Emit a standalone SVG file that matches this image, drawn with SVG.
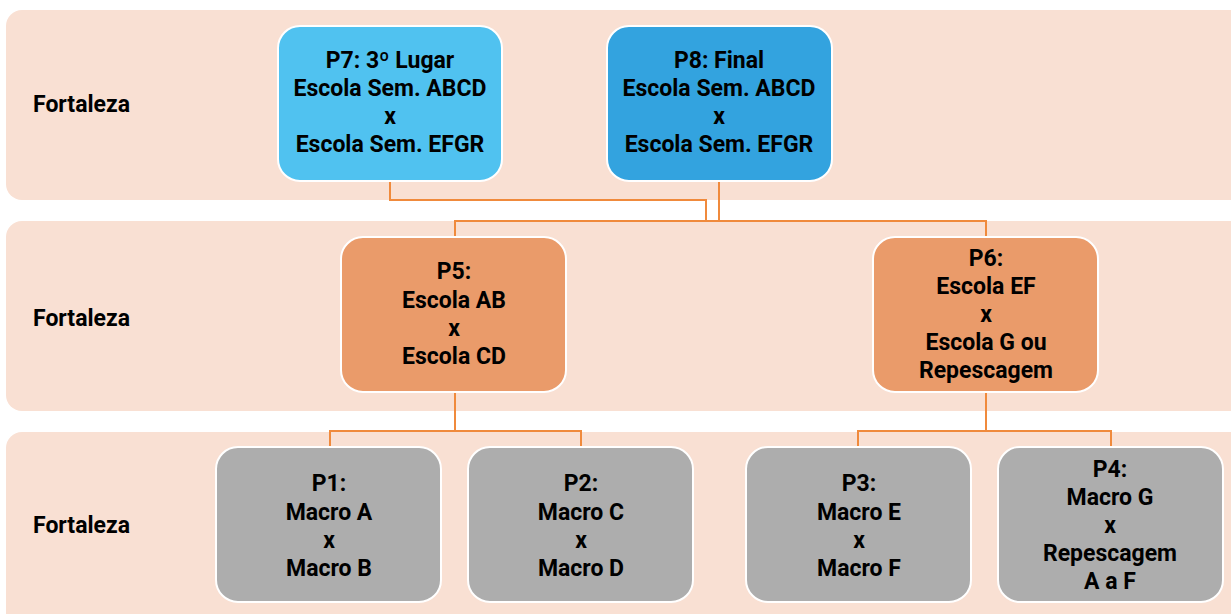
<svg xmlns="http://www.w3.org/2000/svg" width="1231" height="614" viewBox="0 0 1231 614">
<style>
.band{fill:#F9E0D3}
.node{stroke:#FFFFFF;stroke-width:2}
.blue1{fill:#50C2F0}
.blue2{fill:#33A3DF}
.orange{fill:#EA9B6A}
.gray{fill:#ADADAD}
text{font-family:Roboto,"Liberation Sans",sans-serif;font-weight:bold;font-size:23px;fill:#000}
.c{text-anchor:middle}
.conn{fill:none;stroke:#F08A3C;stroke-width:2}
</style>
<rect width="1231" height="614" fill="#FFFFFF"/>
<g id="bands">
<rect class="band" x="6" y="10" width="1240" height="190" rx="16"/>
<rect class="band" x="6" y="221" width="1240" height="190" rx="16"/>
<rect class="band" x="6" y="432" width="1240" height="200" rx="16"/>
<text x="33" y="112">Fortaleza</text>
<text x="33" y="326">Fortaleza</text>
<text x="33" y="533">Fortaleza</text>
</g>
<g id="connectors">
<polyline class="conn" points="390,181 390,200 706,200 706,221"/>
<polyline class="conn" points="719,181 719,221"/>
<polyline class="conn" points="455,237 455,221 986,221 986,237"/>
<polyline class="conn" points="455,392 455,431"/>
<polyline class="conn" points="330,447 330,431 581,431 581,447"/>
<polyline class="conn" points="986,392 986,431"/>
<polyline class="conn" points="858,447 858,431 1111,431 1111,447"/>
</g>
<g id="P7">
<rect class="node blue1" x="278" y="26" width="224" height="155" rx="22"/>
<text class="c" x="390" y="68">P7: 3º Lugar</text>
<text class="c" x="390" y="96">Escola Sem. ABCD</text>
<text class="c" x="390" y="124">x</text>
<text class="c" x="390" y="152">Escola Sem. EFGR</text>
</g>
<g id="P8">
<rect class="node blue2" x="607" y="26" width="225" height="155" rx="22"/>
<text class="c" x="719" y="68">P8: Final</text>
<text class="c" x="719" y="96">Escola Sem. ABCD</text>
<text class="c" x="719" y="124">x</text>
<text class="c" x="719" y="152">Escola Sem. EFGR</text>
</g>
<g id="P5">
<rect class="node orange" x="341" y="237" width="225" height="155" rx="22"/>
<text class="c" x="454" y="279">P5:</text>
<text class="c" x="454" y="308">Escola AB</text>
<text class="c" x="454" y="336">x</text>
<text class="c" x="454" y="364">Escola CD</text>
</g>
<g id="P6">
<rect class="node orange" x="873" y="237" width="225" height="155" rx="22"/>
<text class="c" x="986" y="266">P6:</text>
<text class="c" x="986" y="294">Escola EF</text>
<text class="c" x="986" y="322">x</text>
<text class="c" x="986" y="350">Escola G ou</text>
<text class="c" x="986" y="378">Repescagem</text>
</g>
<g id="P1">
<rect class="node gray" x="216" y="447" width="225" height="155" rx="22"/>
<text class="c" x="329" y="491">P1:</text>
<text class="c" x="329" y="520">Macro A</text>
<text class="c" x="329" y="548">x</text>
<text class="c" x="329" y="576">Macro B</text>
</g>
<g id="P2">
<rect class="node gray" x="468" y="447" width="225" height="155" rx="22"/>
<text class="c" x="581" y="491">P2:</text>
<text class="c" x="581" y="520">Macro C</text>
<text class="c" x="581" y="548">x</text>
<text class="c" x="581" y="576">Macro D</text>
</g>
<g id="P3">
<rect class="node gray" x="746" y="447" width="225" height="155" rx="22"/>
<text class="c" x="859" y="491">P3:</text>
<text class="c" x="859" y="520">Macro E</text>
<text class="c" x="859" y="548">x</text>
<text class="c" x="859" y="576">Macro F</text>
</g>
<g id="P4">
<rect class="node gray" x="998" y="447" width="225" height="155" rx="22"/>
<text class="c" x="1110" y="477">P4:</text>
<text class="c" x="1110" y="505">Macro G</text>
<text class="c" x="1110" y="533">x</text>
<text class="c" x="1110" y="561">Repescagem</text>
<text class="c" x="1110" y="589">A a F</text>
</g>
</svg>
